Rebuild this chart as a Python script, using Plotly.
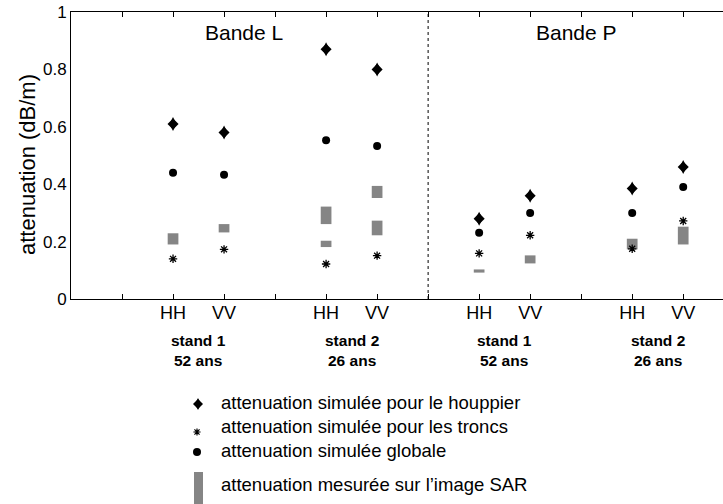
import plotly.graph_objects as go

# ---------------- data ----------------
positions = [2, 3, 5, 6, 8, 9, 11, 12]
pol_labels = ["HH", "VV", "HH", "VV", "HH", "VV", "HH", "VV"]
houppier = [0.61, 0.58, 0.87, 0.80, 0.28, 0.36, 0.385, 0.46]
troncs = [0.14, 0.173, 0.122, 0.151, 0.159, 0.222, 0.175, 0.272]
globale = [0.44, 0.433, 0.553, 0.533, 0.231, 0.30, 0.30, 0.39]
mes_low = [0.19, 0.232, 0.261, 0.352, 0.092, 0.124, 0.173, 0.19]
mes_high = [0.229, 0.261, 0.322, 0.394, 0.103, 0.152, 0.21, 0.252]
mes2_pos = [5, 6]
mes2_low = [0.181, 0.222]
mes2_high = [0.203, 0.273]
stand_pos = [2.5, 5.5, 8.5, 11.5]
stand_labels = ["stand 1<br>52 ans", "stand 2<br>26 ans", "stand 1<br>52 ans", "stand 2<br>26 ans"]
band_labels = ["Bande L", "Bande P"]
band_pos = [3.4, 9.9]
band_sep = 7
y_ticks = [0, 0.2, 0.4, 0.6, 0.8, 1]
y_ticktext = ["0", "0.2", "0.4", "0.6", "0.8", "1"]
legend_texts = ["attenuation simulée pour le houppier",
                "attenuation simulée pour les troncs",
                "attenuation simulée globale",
                "attenuation mesurée sur l\u2019image SAR"]

W, H = 723, 504
L, R, T, B = 71, 723, 12, 299
FONT = "Liberation Sans, Arial, sans-serif"
GREY = "#858585"
XMAX = 12.78

fig = go.Figure()

# measured bars
fig.add_trace(go.Bar(x=positions, y=[h - l for h, l in zip(mes_high, mes_low)], base=mes_low,
                     width=0.21, marker=dict(color=GREY, line=dict(width=0)), xaxis="x", yaxis="y",
                     showlegend=False, hoverinfo="skip"))
fig.add_trace(go.Bar(x=mes2_pos, y=[h - l for h, l in zip(mes2_high, mes2_low)], base=mes2_low,
                     width=0.21, marker=dict(color=GREY, line=dict(width=0)), xaxis="x", yaxis="y",
                     showlegend=False, hoverinfo="skip"))
# simulated
fig.add_trace(go.Scatter(x=positions, y=troncs, mode="markers", xaxis="x", yaxis="y",
                         marker=dict(symbol="asterisk-open", size=7, color="black",
                                     line=dict(color="black", width=1.3)), showlegend=False))
fig.add_trace(go.Scatter(x=positions, y=globale, mode="markers", xaxis="x", yaxis="y",
                         marker=dict(symbol="circle", size=8, color="black"), showlegend=False))
for sym, sz in (("diamond", 8.5), ("diamond-tall", 10)):
    fig.add_trace(go.Scatter(x=positions, y=houppier, mode="markers", xaxis="x", yaxis="y",
                             marker=dict(symbol=sym, size=sz, color="black", line=dict(width=0)),
                             showlegend=False))

# legend markers (pixel axes)
for sym, sz in (("diamond", 7.7), ("diamond-tall", 8.6)):
    fig.add_trace(go.Scatter(x=[198], y=[404], mode="markers", xaxis="x2", yaxis="y2",
                             marker=dict(symbol=sym, size=sz, color="black", line=dict(width=0)),
                             showlegend=False))
fig.add_trace(go.Scatter(x=[197], y=[432], mode="markers", xaxis="x2", yaxis="y2",
                         marker=dict(symbol="asterisk-open", size=6, color="black",
                                     line=dict(color="black", width=1.2)), showlegend=False))
fig.add_trace(go.Scatter(x=[197], y=[452], mode="markers", xaxis="x2", yaxis="y2",
                         marker=dict(symbol="circle", size=8, color="black"), showlegend=False))

shapes = [
    dict(type="line", xref="x", yref="y", x0=band_sep, x1=band_sep, y0=0, y1=1,
         line=dict(color="black", width=1, dash="dot")),
    dict(type="rect", xref="x2", yref="y2", x0=194, x1=203, y0=472, y1=504,
         fillcolor=GREY, line=dict(width=0)),
]

annotations = []
for p, t in zip(stand_pos, stand_labels):
    annotations.append(dict(x=p, y=350, xref="x", yref="y2", text="<b>" + t.replace("<br>", "</b><br><b>") + "</b>",
                            showarrow=False, font=dict(family=FONT, size=15.5, color="black"),
                            align="center"))
for p, t in zip(band_pos, band_labels):
    annotations.append(dict(x=p, y=0.93, xref="x", yref="y", text=t, showarrow=False,
                            font=dict(family=FONT, size=21, color="black"),
                            bgcolor="white"))
annotations.append(dict(x=27, y=165, xref="x2", yref="y2", text="attenuation (dB/m)",
                        textangle=-90, showarrow=False, font=dict(family=FONT, size=22, color="black")))
for yy, t in zip([402, 426, 450, 484], legend_texts):
    annotations.append(dict(x=219, y=yy, xref="x2", yref="y2", text=t, showarrow=False,
                            xanchor="left", yanchor="middle",
                            font=dict(family=FONT, size=18.5, color="black")))

fig.update_layout(
    width=W, height=H,
    margin=dict(l=0, r=0, t=0, b=0, autoexpand=False),
    paper_bgcolor="white", plot_bgcolor="rgba(0,0,0,0)",
    barmode="overlay",
    showlegend=False,
    shapes=shapes,
    annotations=annotations,
    xaxis=dict(domain=[L / W, R / W], range=[0, XMAX], tickvals=list(range(1, 13)),
               ticktext=["" if i not in positions else pol_labels[positions.index(i)] for i in range(1, 13)],
               ticks="inside", ticklen=5, tickcolor="black", showline=True, linecolor="black",
               linewidth=1, mirror="ticks", showgrid=False, zeroline=False, automargin=False,
               ticklabelstandoff=-3,
               tickfont=dict(family=FONT, size=18, color="black"), anchor="y"),
    yaxis=dict(domain=[1 - B / H, 1 - T / H], range=[0, 1], tickvals=y_ticks, ticktext=y_ticktext,
               ticks="", showline=True, linecolor="black", linewidth=1, showgrid=False, automargin=False,
               zeroline=False, tickfont=dict(family=FONT, size=17, color="black"), anchor="x"),
    xaxis2=dict(domain=[0, 1], range=[0, W], visible=False, anchor="y2", automargin=False),
    yaxis2=dict(domain=[0, 1], range=[H, 0], visible=False, anchor="x2", automargin=False),
)

fig.write_html("out.html", config={"displayModeBar": False},
               post_script="document.body.style.margin='0';document.body.style.padding='0';")
